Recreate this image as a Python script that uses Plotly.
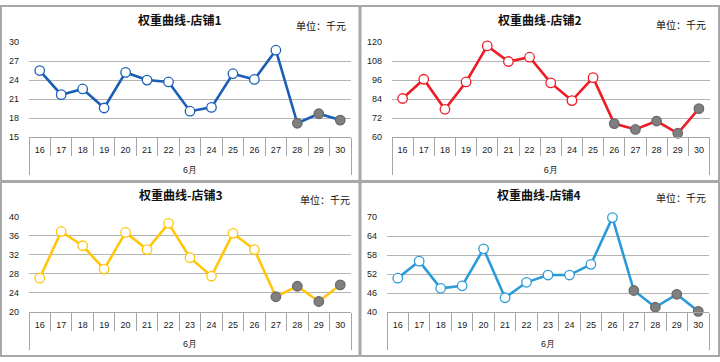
import plotly.graph_objects as go

# ---------------- data ----------------
days = ["16", "17", "18", "19", "20", "21", "22", "23", "24", "25", "26", "27", "28", "29", "30"]
month = "6月"
store1 = [25.5, 21.7, 22.6, 19.6, 25.2, 24.0, 23.7, 19.1, 19.7, 25.0, 24.1, 28.7, 17.2, 18.7, 17.7]
store2 = [84.4, 96.5, 77.6, 94.8, 117.5, 107.7, 110.4, 94.2, 83.1, 97.5, 68.6, 64.9, 70.2, 62.5, 78.0]
store3 = [27.1, 36.9, 33.9, 29.0, 36.7, 33.1, 38.6, 31.4, 27.5, 36.5, 33.1, 23.2, 25.4, 22.2, 25.7]
store4 = [50.7, 56.1, 47.5, 48.3, 60.0, 44.5, 49.4, 51.7, 51.7, 55.1, 69.9, 46.8, 41.5, 45.6, 40.2]
# first day drawn with a filled grey marker, per store
grey_from = ["28", "26", "27", "27"]
titles = ["权重曲线-店铺1", "权重曲线-店铺2", "权重曲线-店铺3", "权重曲线-店铺4"]
unit_label = "单位：千元"
y_ticks = [
    [15, 18, 21, 24, 27, 30],
    [60, 72, 84, 96, 108, 120],
    [20, 24, 28, 32, 36, 40],
    [40, 46, 52, 58, 64, 70],
]
series = [store1, store2, store3, store4]

# ---------------- style / layout ----------------
W, H = 720, 362
colors = ["#1A5EB6", "#EE1C25", "#FFC60A", "#2B9BD8"]
GRID = "#B4B4B4"
AXIS = "#A6A6A6"
BORDER = "#A8A8A8"
GREY_FILL = "#7F7F7F"
GREY_EDGE = "#6A6A6A"
TICK_FONT = dict(family="Liberation Sans, Arial, sans-serif", size=9, color="#1a1a1a")
CJK = "Noto Sans CJK SC"

# plot areas in pixels: (left, right, top, bottom)
plot_px = [
    (29, 351, 38, 136),
    (392, 709.5, 38, 136),
    (29, 351, 217.7, 315.7),
    (387, 709, 218.3, 315.7),
]
title_px = [(180, 15.3), (540, 15.3), (181, 194.7), (539, 194.7)]
unit_px = [(348, 21.5), (708, 20.5), (352, 200), (708, 197.5)]


def px_x(v):
    return v / W


def px_y(v):
    return 1 - v / H


# the empty second line gives the day row the height of the Excel label box
day_labels = [d + "<br>&nbsp;" for d in days]

fig = go.Figure()
layout = dict(
    width=W, height=H,
    margin=dict(l=0, r=0, t=0, b=0),
    paper_bgcolor="white", plot_bgcolor="white",
    showlegend=False,
)
annotations = []
shapes = []

for i in range(4):
    n = "" if i == 0 else str(i + 1)
    xa, ya = "xaxis" + n, "yaxis" + n
    xr, yr = "x" + n, "y" + n
    vals = series[i]
    start = days.index(grey_from[i])
    fills = ["white" if k < start else GREY_FILL for k in range(len(days))]
    edges = [colors[i] if k < start else GREY_EDGE for k in range(len(days))]
    fig.add_trace(go.Scatter(
        x=[[month] * len(days), day_labels], y=vals,
        mode="lines+markers",
        line=dict(color=colors[i], width=2.6),
        marker=dict(size=9.5, color=fills, line=dict(color=edges, width=1.3)),
        xaxis=xr, yaxis=yr,
        cliponaxis=False,
        hoverinfo="y",
    ))
    l, r, t, b = plot_px[i]
    yt = y_ticks[i]
    layout[xa] = dict(
        type="multicategory",
        domain=[px_x(l), px_x(r)],
        anchor=yr,
        range=[-0.5, len(days) - 0.5],
        showline=True, linecolor=AXIS, linewidth=1,
        ticks="outside", tickson="boundaries", ticklen=18,
        tickcolor=AXIS, tickwidth=1,
        ticklabelstandoff=4,
        showdividers=True, dividercolor=AXIS, dividerwidth=1,
        tickfont=TICK_FONT,
        showgrid=False, zeroline=False,
    )
    layout[ya] = dict(
        domain=[px_y(b), px_y(t)],
        anchor=xr,
        range=[yt[0], yt[-1]],
        tickmode="array", tickvals=yt, ticktext=[str(v) for v in yt],
        showgrid=True, gridcolor=GRID, gridwidth=1,
        showline=False, zeroline=False, ticks="",
        ticklabelstandoff=9,
        tickfont=TICK_FONT,
    )
    tx, ty = title_px[i]
    annotations.append(dict(
        text="<b>" + titles[i] + "</b>", x=px_x(tx), y=px_y(ty),
        xref="paper", yref="paper", xanchor="center", yanchor="middle",
        showarrow=False, font=dict(family=CJK, size=12, color="#111111"),
    ))
    ux, uy = unit_px[i]
    annotations.append(dict(
        text=unit_label, x=px_x(ux), y=px_y(uy),
        xref="paper", yref="paper", xanchor="right", yanchor="middle",
        showarrow=False, font=dict(family=CJK, size=10, color="#111111"),
    ))

# panel borders
for (x0, x1, y0, y1) in [(1, 359.5, 1, 181), (360.5, 719, 1, 181),
                         (1, 359.5, 182, 361), (360.5, 719, 182, 361)]:
    shapes.append(dict(type="rect", xref="paper", yref="paper",
                       x0=px_x(x0), x1=px_x(x1), y0=px_y(y1), y1=px_y(y0),
                       line=dict(color=BORDER, width=2), fillcolor="rgba(0,0,0,0)",
                       layer="below"))

layout["annotations"] = annotations
layout["shapes"] = shapes
fig.update_layout(**layout)
fig.write_html(
    "out.html",
    config={"displayModeBar": False},
    post_script="document.body.style.margin='0';document.body.style.overflow='hidden';",
)
